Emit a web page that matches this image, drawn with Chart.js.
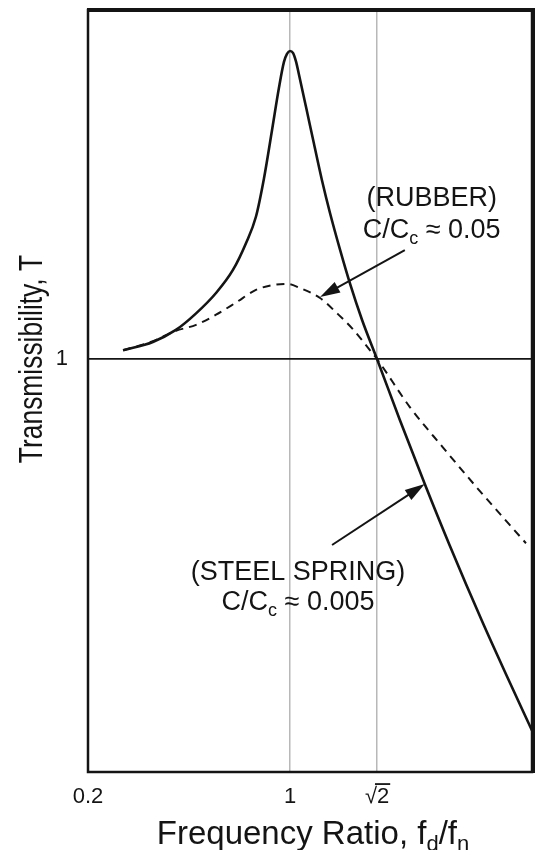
<!DOCTYPE html>
<html>
<head>
<meta charset="utf-8">
<script src="https://cdn.jsdelivr.net/npm/chart.js@4"></script>
<style>
  html, body { margin: 0; padding: 0; background: #fff; }
  canvas { display: block; }
</style>
</head>
<body>
<canvas id="chart" width="537" height="850"></canvas>
<script>
const xTicks = [0.2, 1, Math.SQRT2];
const xTickLabels = ['0.2', '1', '√2'];
const yTicks = [1];

// steel spring, C/Cc = 0.005
const steelRatio = [0.339, 0.457, 0.548, 0.628, 0.707, 0.774, 0.826, 0.865, 0.897, 0.929, 0.956,
  0.976, 0.988, 1.0, 1.014, 1.029, 1.043, 1.076, 1.114, 1.152, 1.190, 1.238, 1.286, 1.343, 1.414,
  1.524, 1.644, 1.763, 1.921, 2.036, 2.16];
const steelT = [1.05, 1.10, 1.176, 1.29, 1.445, 1.643, 1.91, 2.21, 2.74, 3.59, 4.53,
  5.24, 5.48, 5.57, 5.51, 5.24, 4.87, 4.08, 3.32, 2.71, 2.26, 1.84, 1.52, 1.243, 1.0,
  0.712, 0.498, 0.3545, 0.231, 0.172, 0.126];

// rubber, C/Cc = 0.05
const rubberRatio = [0.339, 0.457, 0.548, 0.628, 0.707, 0.786, 0.865, 0.933, 0.992, 1.048, 1.143,
  1.224, 1.300, 1.381, 1.414, 1.572, 1.730, 1.892, 2.131];
const rubberT = [1.05, 1.105, 1.17, 1.21, 1.28, 1.37, 1.47, 1.51, 1.52, 1.485, 1.405,
  1.29, 1.18, 1.05, 1.0, 0.765, 0.612, 0.49, 0.358];

// the sketch does not keep one scale along x: 0.2..1 and 1..√2 are stretched differently
const xStops = [0.2, 1, Math.SQRT2, 2.16];
const xFractions = [0, 0.455, 0.651, 1];

function interp(v, from, to) {
  let i = 0;
  while (i < from.length - 2 && v > from[i + 1]) i++;
  const t = (v - from[i]) / (from[i + 1] - from[i]);
  return to[i] + t * (to[i + 1] - to[i]);
}

class SketchScale extends Chart.LinearScale {
  getPixelForValue(value) {
    return this.getPixelForDecimal(interp(value, xStops, xFractions));
  }
  getValueForPixel(pixel) {
    return interp(this.getDecimalForPixel(pixel), xFractions, xStops);
  }
}
SketchScale.id = 'sketch';
SketchScale.defaults = Chart.LinearScale.defaults;
Chart.register(SketchScale);

const FONT = "'Liberation Sans', Arial, sans-serif";
const INK = '#141414';
const TICK_SIZE = 22;
const TICK_PAD = 12;

// text with subscripts, drawn centred on (cx, cy)
function drawRuns(ctx, runs, cx, cy, size) {
  const subSize = Math.round(size * 0.66);
  let total = 0;
  runs.forEach(r => {
    ctx.font = `${r.sub ? subSize : size}px ${FONT}`;
    r.w = ctx.measureText(r.t).width;
    total += r.w;
  });
  let x = cx - total / 2;
  ctx.textAlign = 'left';
  ctx.textBaseline = 'alphabetic';
  runs.forEach(r => {
    ctx.font = `${r.sub ? subSize : size}px ${FONT}`;
    ctx.fillText(r.t, x, cy + size * 0.36 + (r.sub ? size * 0.22 : 0));
    x += r.w;
  });
}

function arrow(ctx, x0, y0, x1, y1) {
  const ang = Math.atan2(y1 - y0, x1 - x0);
  const len = 20, half = 6;
  ctx.beginPath();
  ctx.moveTo(x0, y0);
  ctx.lineTo(x1 - Math.cos(ang) * len * 0.8, y1 - Math.sin(ang) * len * 0.8);
  ctx.stroke();
  ctx.beginPath();
  ctx.moveTo(x1, y1);
  ctx.lineTo(x1 - Math.cos(ang) * len - Math.sin(ang) * half, y1 - Math.sin(ang) * len + Math.cos(ang) * half);
  ctx.lineTo(x1 - Math.cos(ang) * len + Math.sin(ang) * half, y1 - Math.sin(ang) * len - Math.cos(ang) * half);
  ctx.closePath();
  ctx.fill();
}

const notes = [
  { ratio: 1.677, t: 2.481, runs: [{ t: '(RUBBER)' }] },
  { ratio: 1.677, t: 2.076, runs: [{ t: 'C/C' }, { t: 'c', sub: true }, { t: ' ≈ 0.05' }] },
  { ratio: 1.038, t: 0.308, runs: [{ t: '(STEEL SPRING)' }] },
  { ratio: 1.038, t: 0.261, runs: [{ t: 'C/C' }, { t: 'c', sub: true }, { t: ' ≈ 0.005' }] },
];
const arrows = [
  { from: [1.548, 1.836], to: [1.143, 1.413] },
  { from: [1.200, 0.3545], to: [1.644, 0.498] },
];

const extras = {
  id: 'extras',
  afterDatasetsDraw(chart) {
    const { ctx, chartArea: a, scales: { x, y } } = chart;
    ctx.save();
    ctx.strokeStyle = INK;
    ctx.fillStyle = INK;
    // frame, heavier on top and right
    ctx.lineWidth = 2.5;
    ctx.strokeRect(a.left, a.top, a.right - a.left, a.bottom - a.top);
    ctx.lineWidth = 4;
    ctx.beginPath();
    ctx.moveTo(a.left - 1, a.top);
    ctx.lineTo(a.right + 1, a.top);
    ctx.lineTo(a.right + 1, a.bottom + 1);
    ctx.stroke();

    ctx.lineWidth = 2;
    arrows.forEach(ar => {
      arrow(ctx, x.getPixelForValue(ar.from[0]), y.getPixelForValue(ar.from[1]),
        x.getPixelForValue(ar.to[0]), y.getPixelForValue(ar.to[1]));
    });

    notes.forEach(n => {
      drawRuns(ctx, n.runs, x.getPixelForValue(n.ratio), y.getPixelForValue(n.t), 27);
    });

    // vinculum over the 2 of the √2 tick label
    ctx.font = `${TICK_SIZE}px ${FONT}`;
    ctx.textBaseline = 'top';
    const wAll = ctx.measureText('√2').width;
    const mRoot = ctx.measureText('√');
    const cx = x.getPixelForValue(Math.SQRT2);
    const top = a.bottom + TICK_PAD - mRoot.actualBoundingBoxAscent + 1;
    ctx.lineWidth = 1.8;
    ctx.beginPath();
    ctx.moveTo(cx - wAll / 2 + mRoot.width - 2, top);
    ctx.lineTo(cx + wAll / 2 + 1, top);
    ctx.stroke();

    // axis titles
    drawRuns(ctx, [{ t: 'Frequency Ratio, f' }, { t: 'd', sub: true }, { t: '/f' }, { t: 'n', sub: true }],
      (a.left + a.right) / 2 + 3, 832, 33);
    ctx.save();
    ctx.translate(30, y.getPixelForValue(1));
    ctx.rotate(-Math.PI / 2);
    ctx.scale(0.8, 1);
    drawRuns(ctx, [{ t: 'Transmissibility, T' }], 0, 0, 33);
    ctx.restore();
    ctx.restore();
  }
};

new Chart(document.getElementById('chart'), {
  type: 'line',
  data: {
    datasets: [
      {
        label: 'Steel spring',
        data: steelRatio.map((r, i) => ({ x: r, y: steelT[i] })),
        borderColor: INK,
        borderWidth: 2.6,
        pointRadius: 0,
        cubicInterpolationMode: 'monotone',
      },
      {
        label: 'Rubber',
        data: rubberRatio.map((r, i) => ({ x: r, y: rubberT[i] })),
        borderColor: INK,
        borderWidth: 2,
        borderDash: [8, 6],
        pointRadius: 0,
        cubicInterpolationMode: 'monotone',
      },
    ],
  },
  options: {
    responsive: false,
    animation: false,
    layout: { padding: { top: 10, right: 5, left: 0, bottom: 0 } },
    plugins: {
      legend: { display: false },
      tooltip: { enabled: false },
    },
    scales: {
      x: {
        type: 'sketch',
        min: 0.2,
        max: 2.16,
        afterBuildTicks: s => { s.ticks = xTicks.map(v => ({ value: v })); },
        afterFit: s => { s.height = 78; s.paddingLeft = 0; s.paddingRight = 0; },
        ticks: {
          autoSkip: false,
          maxRotation: 0,
          padding: TICK_PAD,
          color: INK,
          font: { family: FONT, size: TICK_SIZE },
          callback: (v, i) => xTickLabels[i],
        },
        grid: { color: '#b8b8b8', lineWidth: 1.5, drawTicks: false },
        border: { display: false },
      },
      y: {
        type: 'logarithmic',
        min: 0.1,
        max: 7,
        afterBuildTicks: s => { s.ticks = yTicks.map(v => ({ value: v })); },
        afterFit: s => { s.width = 88; s.paddingTop = 0; s.paddingBottom = 0; },
        ticks: {
          padding: 20,
          color: INK,
          font: { family: FONT, size: TICK_SIZE },
          callback: v => String(v),
        },
        grid: { color: INK, lineWidth: 1.8, drawTicks: false },
        border: { display: false },
      },
    },
  },
  plugins: [extras],
});
</script>
</body>
</html>
